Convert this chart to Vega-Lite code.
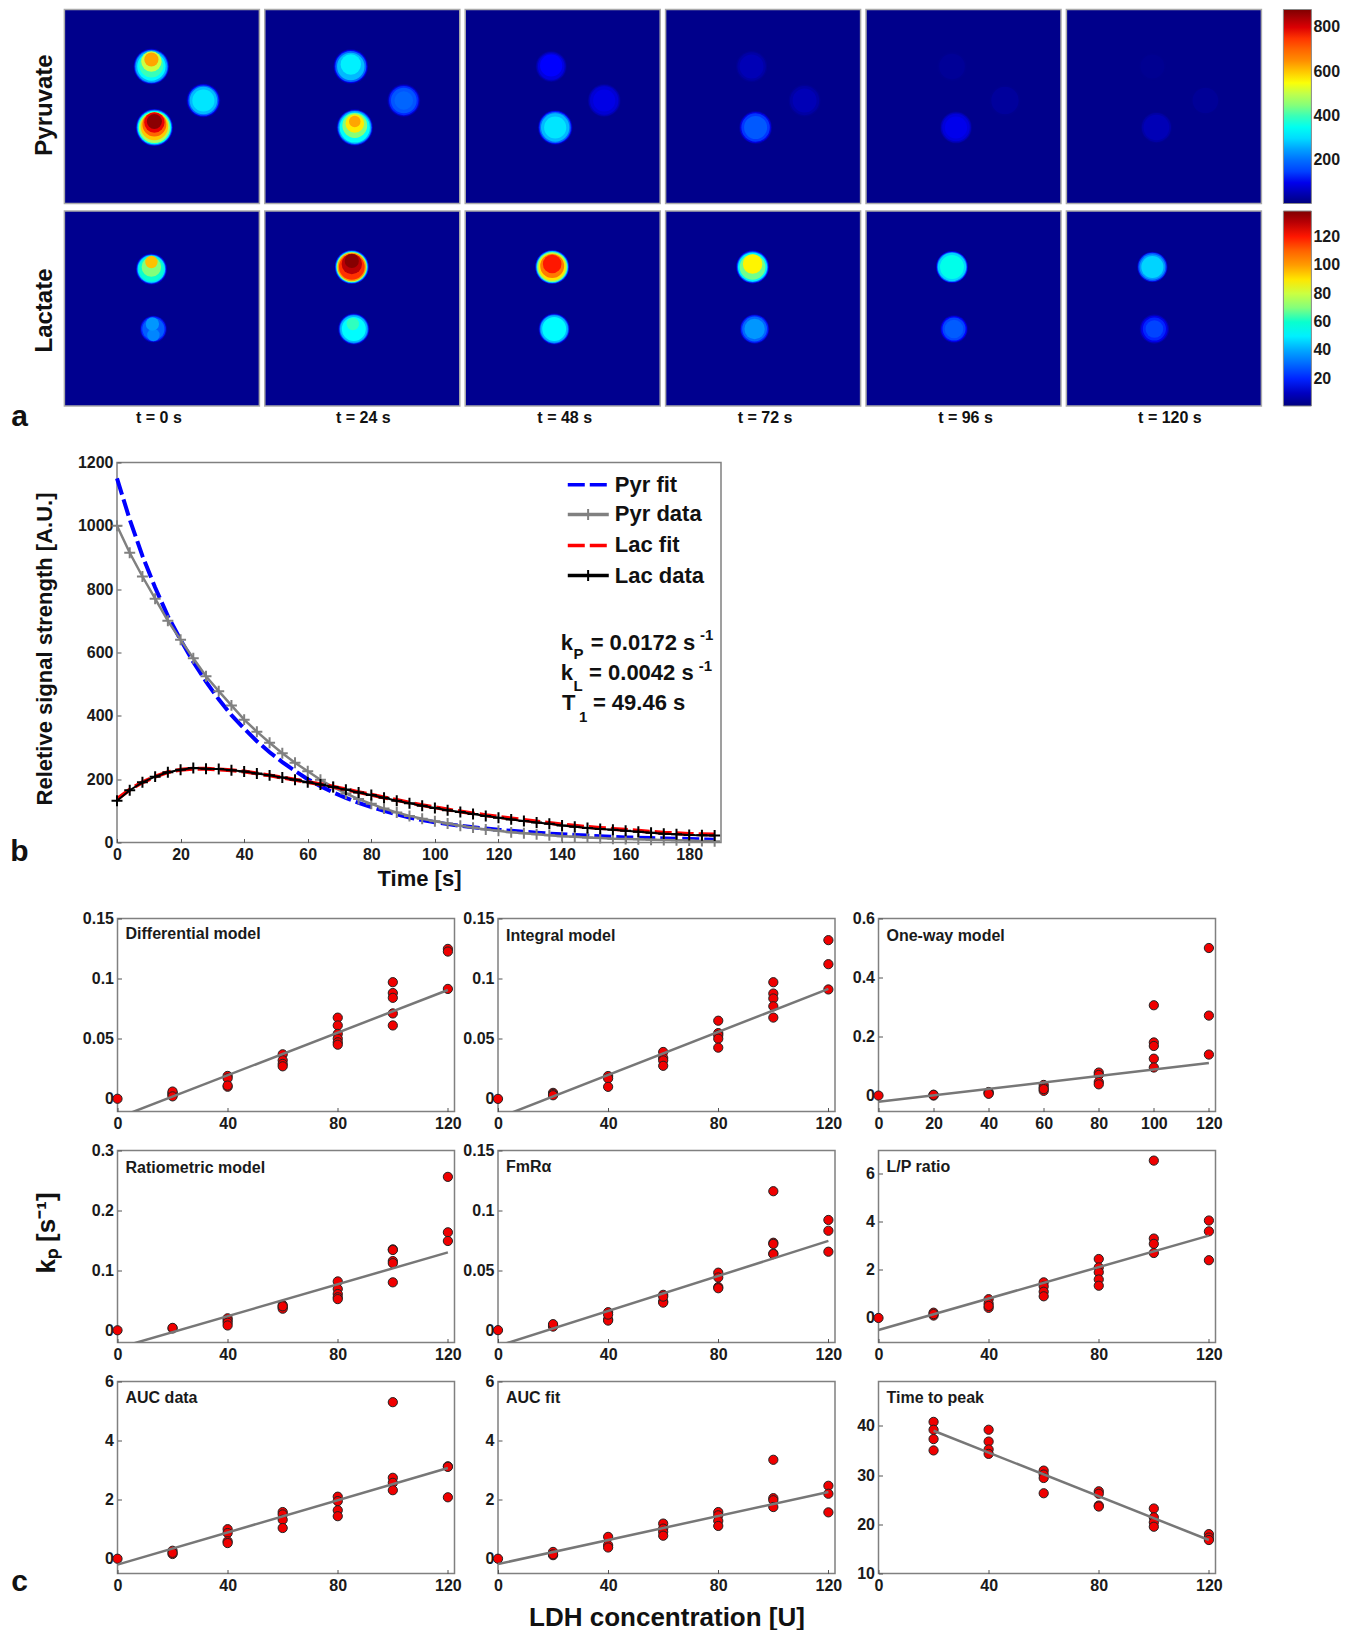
{"$schema":"https://vega.github.io/schema/vega-lite/v6.json","padding":{"left":0,"top":8.5,"right":0,"bottom":0},"background":"white","config":{"numberFormat":".6~g","font":"Liberation Sans","view":{"stroke":"#808080","strokeWidth":1.5},"axis":{"grid":false,"domain":false,"labelFont":"Liberation Sans","labelFontSize":16,"labelFontWeight":"bold","labelColor":"#1a1a1a","labelPadding":8,"tickSize":-4,"tickColor":"#555","titleFont":"Liberation Sans","titleColor":"#111","titleFontWeight":"bold","labelFlush":false,"labelOverlap":false},"title":{"anchor":"start","frame":"group","dx":8,"font":"Liberation Sans","fontSize":16,"fontWeight":"bold","color":"#1a1a1a"},"legend":{"labelFont":"Liberation Sans","labelFontSize":16,"labelFontWeight":"bold","labelColor":"#1a1a1a"}},
"datasets":{"heat":[
{"p":"P0","x":87,"y":57,"d":40,"v":70},{"p":"P0","x":87,"y":57,"d":38,"v":160},{"p":"P0","x":87,"y":57,"d":36,"v":260},{"p":"P0","x":87,"y":57,"d":32,"v":330},{"p":"P0","x":87,"y":56,"d":27,"v":400},{"p":"P0","x":87,"y":52,"d":23,"v":510},{"p":"P0","x":87,"y":50,"d":16,"v":630},
{"p":"P0","x":90,"y":118,"d":42,"v":80},{"p":"P0","x":90,"y":118,"d":40,"v":200},{"p":"P0","x":90,"y":118,"d":38,"v":350},{"p":"P0","x":90,"y":118,"d":35,"v":480},{"p":"P0","x":90,"y":117,"d":31,"v":600},{"p":"P0","x":90,"y":115,"d":27,"v":700},{"p":"P0","x":90,"y":113,"d":23,"v":790},{"p":"P0","x":90,"y":112,"d":17,"v":870},
{"p":"P0","x":139,"y":91,"d":38,"v":50},{"p":"P0","x":139,"y":91,"d":36,"v":110},{"p":"P0","x":139,"y":91,"d":34,"v":190},{"p":"P0","x":139,"y":91,"d":31,"v":270},{"p":"P0","x":139,"y":91,"d":25,"v":310},
{"p":"P24","x":86,"y":57,"d":39,"v":50},{"p":"P24","x":86,"y":57,"d":37,"v":110},{"p":"P24","x":86,"y":57,"d":35,"v":190},{"p":"P24","x":86,"y":57,"d":31,"v":270},{"p":"P24","x":86,"y":55,"d":23,"v":320},
{"p":"P24","x":90,"y":118,"d":41,"v":60},{"p":"P24","x":90,"y":118,"d":39,"v":150},{"p":"P24","x":90,"y":118,"d":37,"v":260},{"p":"P24","x":90,"y":118,"d":34,"v":340},{"p":"P24","x":90,"y":116,"d":28,"v":450},{"p":"P24","x":90,"y":114,"d":21,"v":570},{"p":"P24","x":90,"y":112,"d":13,"v":630},
{"p":"P24","x":139,"y":91,"d":37,"v":40},{"p":"P24","x":139,"y":91,"d":35,"v":80},{"p":"P24","x":139,"y":91,"d":33,"v":130},{"p":"P24","x":139,"y":91,"d":29,"v":170},{"p":"P24","x":139,"y":91,"d":21,"v":190},
{"p":"P48","x":86,"y":57,"d":35,"v":30},{"p":"P48","x":86,"y":57,"d":33,"v":60},{"p":"P48","x":86,"y":57,"d":30,"v":90},{"p":"P48","x":86,"y":56,"d":25,"v":115},
{"p":"P48","x":90,"y":118,"d":39,"v":50},{"p":"P48","x":90,"y":118,"d":37,"v":120},{"p":"P48","x":90,"y":118,"d":35,"v":200},{"p":"P48","x":90,"y":118,"d":32,"v":270},{"p":"P48","x":90,"y":118,"d":25,"v":310},
{"p":"P48","x":139,"y":91,"d":37,"v":30},{"p":"P48","x":139,"y":91,"d":35,"v":55},{"p":"P48","x":139,"y":91,"d":32,"v":80},{"p":"P48","x":139,"y":91,"d":25,"v":95},
{"p":"P72","x":86,"y":57,"d":35,"v":25},{"p":"P72","x":86,"y":57,"d":32,"v":40},{"p":"P72","x":86,"y":57,"d":27,"v":55},
{"p":"P72","x":90,"y":118,"d":37,"v":40},{"p":"P72","x":90,"y":118,"d":35,"v":90},{"p":"P72","x":90,"y":118,"d":32,"v":140},{"p":"P72","x":90,"y":118,"d":26,"v":175},
{"p":"P72","x":139,"y":91,"d":36,"v":25},{"p":"P72","x":139,"y":91,"d":33,"v":40},{"p":"P72","x":139,"y":91,"d":27,"v":55},
{"p":"P96","x":86,"y":57,"d":33,"v":20},{"p":"P96","x":86,"y":57,"d":29,"v":28},
{"p":"P96","x":90,"y":118,"d":36,"v":30},{"p":"P96","x":90,"y":118,"d":34,"v":60},{"p":"P96","x":90,"y":118,"d":31,"v":85},{"p":"P96","x":90,"y":118,"d":25,"v":100},
{"p":"P96","x":139,"y":91,"d":35,"v":20},{"p":"P96","x":139,"y":91,"d":31,"v":32},
{"p":"P120","x":86,"y":57,"d":31,"v":18},{"p":"P120","x":86,"y":57,"d":27,"v":22},
{"p":"P120","x":90,"y":118,"d":35,"v":22},{"p":"P120","x":90,"y":118,"d":33,"v":40},{"p":"P120","x":90,"y":118,"d":29,"v":55},
{"p":"P120","x":139,"y":91,"d":33,"v":18},{"p":"P120","x":139,"y":91,"d":29,"v":28},
{"p":"L0","x":87,"y":58,"d":35,"v":12},{"p":"L0","x":87,"y":58,"d":33,"v":28},{"p":"L0","x":87,"y":58,"d":31,"v":48},{"p":"L0","x":87,"y":58,"d":28,"v":60},{"p":"L0","x":87,"y":56,"d":22,"v":70},{"p":"L0","x":87,"y":51,"d":14,"v":95},
{"p":"L0","x":89,"y":118,"d":30,"v":10},{"p":"L0","x":89,"y":118,"d":28,"v":20},{"p":"L0","x":89,"y":118,"d":25,"v":28},{"p":"L0","x":89,"y":124,"d":14,"v":36},{"p":"L0","x":88,"y":113,"d":15,"v":38},
{"p":"L24","x":87,"y":56,"d":38,"v":20},{"p":"L24","x":87,"y":56,"d":36,"v":45},{"p":"L24","x":87,"y":56,"d":34,"v":75},{"p":"L24","x":87,"y":56,"d":32,"v":100},{"p":"L24","x":87,"y":56,"d":29,"v":118},{"p":"L24","x":87,"y":53,"d":23,"v":130},{"p":"L24","x":87,"y":50,"d":16,"v":137},
{"p":"L24","x":89,"y":118,"d":35,"v":12},{"p":"L24","x":89,"y":118,"d":33,"v":28},{"p":"L24","x":89,"y":118,"d":31,"v":42},{"p":"L24","x":89,"y":118,"d":27,"v":52},{"p":"L24","x":88,"y":113,"d":14,"v":62},
{"p":"L48","x":87,"y":56,"d":38,"v":20},{"p":"L48","x":87,"y":56,"d":36,"v":45},{"p":"L48","x":87,"y":56,"d":34,"v":70},{"p":"L48","x":87,"y":56,"d":31,"v":90},{"p":"L48","x":87,"y":55,"d":27,"v":105},{"p":"L48","x":87,"y":53,"d":21,"v":120},
{"p":"L48","x":89,"y":118,"d":35,"v":12},{"p":"L48","x":89,"y":118,"d":33,"v":28},{"p":"L48","x":89,"y":118,"d":31,"v":42},{"p":"L48","x":89,"y":118,"d":27,"v":52},
{"p":"L72","x":87,"y":56,"d":37,"v":15},{"p":"L72","x":87,"y":56,"d":35,"v":32},{"p":"L72","x":87,"y":56,"d":33,"v":50},{"p":"L72","x":87,"y":56,"d":29,"v":68},{"p":"L72","x":87,"y":53,"d":22,"v":88},
{"p":"L72","x":89,"y":118,"d":33,"v":10},{"p":"L72","x":89,"y":118,"d":31,"v":20},{"p":"L72","x":89,"y":118,"d":28,"v":30},{"p":"L72","x":89,"y":118,"d":23,"v":38},
{"p":"L96","x":86,"y":56,"d":36,"v":14},{"p":"L96","x":86,"y":56,"d":34,"v":32},{"p":"L96","x":86,"y":56,"d":32,"v":46},{"p":"L96","x":86,"y":56,"d":27,"v":56},
{"p":"L96","x":88,"y":118,"d":31,"v":8},{"p":"L96","x":88,"y":118,"d":29,"v":18},{"p":"L96","x":88,"y":118,"d":26,"v":24},{"p":"L96","x":88,"y":118,"d":21,"v":28},
{"p":"L120","x":86,"y":56,"d":34,"v":12},{"p":"L120","x":86,"y":56,"d":32,"v":26},{"p":"L120","x":86,"y":56,"d":29,"v":38},{"p":"L120","x":86,"y":56,"d":25,"v":46},
{"p":"L120","x":88,"y":118,"d":33,"v":8},{"p":"L120","x":88,"y":118,"d":30,"v":15},{"p":"L120","x":88,"y":118,"d":26,"v":20},{"p":"L120","x":88,"y":118,"d":20,"v":24}
]},
"spacing":19,
"resolve":{"scale":{"color":"independent"},"legend":{"color":"independent"}},
"vconcat":[
{"spacing":21,"resolve":{"scale":{"color":"independent"},"legend":{"color":"independent"}},"vconcat":[
{"spacing":4.5,"resolve":{"scale":{"color":"independent"},"legend":{"color":"independent"}},"vconcat":[
{"hconcat":[
{"width":57.6,"height":194,"data":{"values":[]},"mark":"point","view":{"stroke":"transparent"},"encoding":{"x":{"field":"x","type":"quantitative","scale":{"domain":[0,1]},"axis":null}}},
{"width":195,"height":194,"view":{"fill":"#00008b","stroke":"#aaa"},"data":{"name":"heat"},"transform":[{"filter":"datum.p=='P0'"}],"mark":{"type":"circle","opacity":1},"encoding":{"x":{"field":"x","type":"quantitative","scale":{"domain":[0,195]},"axis":null},"y":{"field":"y","type":"quantitative","scale":{"domain":[194,0]},"axis":{"title":"Pyruvate","labels":false,"ticks":false,"titleX":-20,"titleY":95,"titleBaseline":"middle","titleFontSize":24,"titleAlign":"center"}},"size":{"field":"d","type":"quantitative","scale":{"type":"pow","exponent":2,"domain":[0,40],"range":[0,1257]},"legend":null},"color":{"field":"v","type":"quantitative","scale":{"domain":[6,881],"range":["#00007f","#0000ff","#007fff","#00ffff","#7fff7f","#ffff00","#ff7f00","#ff0000","#7f0000"]},"legend":null}}},
{"width":195,"height":194,"view":{"fill":"#00008b","stroke":"#aaa"},"data":{"name":"heat"},"transform":[{"filter":"datum.p=='P24'"}],"mark":{"type":"circle","opacity":1},"encoding":{"x":{"field":"x","type":"quantitative","scale":{"domain":[0,195]},"axis":null},"y":{"field":"y","type":"quantitative","scale":{"domain":[194,0]},"axis":null},"size":{"field":"d","type":"quantitative","scale":{"type":"pow","exponent":2,"domain":[0,40],"range":[0,1257]},"legend":null},"color":{"field":"v","type":"quantitative","scale":{"domain":[6,881],"range":["#00007f","#0000ff","#007fff","#00ffff","#7fff7f","#ffff00","#ff7f00","#ff0000","#7f0000"]},"legend":null}}},
{"width":195,"height":194,"view":{"fill":"#00008b","stroke":"#aaa"},"data":{"name":"heat"},"transform":[{"filter":"datum.p=='P48'"}],"mark":{"type":"circle","opacity":1},"encoding":{"x":{"field":"x","type":"quantitative","scale":{"domain":[0,195]},"axis":null},"y":{"field":"y","type":"quantitative","scale":{"domain":[194,0]},"axis":null},"size":{"field":"d","type":"quantitative","scale":{"type":"pow","exponent":2,"domain":[0,40],"range":[0,1257]},"legend":null},"color":{"field":"v","type":"quantitative","scale":{"domain":[6,881],"range":["#00007f","#0000ff","#007fff","#00ffff","#7fff7f","#ffff00","#ff7f00","#ff0000","#7f0000"]},"legend":null}}},
{"width":195,"height":194,"view":{"fill":"#00008b","stroke":"#aaa"},"data":{"name":"heat"},"transform":[{"filter":"datum.p=='P72'"}],"mark":{"type":"circle","opacity":1},"encoding":{"x":{"field":"x","type":"quantitative","scale":{"domain":[0,195]},"axis":null},"y":{"field":"y","type":"quantitative","scale":{"domain":[194,0]},"axis":null},"size":{"field":"d","type":"quantitative","scale":{"type":"pow","exponent":2,"domain":[0,40],"range":[0,1257]},"legend":null},"color":{"field":"v","type":"quantitative","scale":{"domain":[6,881],"range":["#00007f","#0000ff","#007fff","#00ffff","#7fff7f","#ffff00","#ff7f00","#ff0000","#7f0000"]},"legend":null}}},
{"width":195,"height":194,"view":{"fill":"#00008b","stroke":"#aaa"},"data":{"name":"heat"},"transform":[{"filter":"datum.p=='P96'"}],"mark":{"type":"circle","opacity":1},"encoding":{"x":{"field":"x","type":"quantitative","scale":{"domain":[0,195]},"axis":null},"y":{"field":"y","type":"quantitative","scale":{"domain":[194,0]},"axis":null},"size":{"field":"d","type":"quantitative","scale":{"type":"pow","exponent":2,"domain":[0,40],"range":[0,1257]},"legend":null},"color":{"field":"v","type":"quantitative","scale":{"domain":[6,881],"range":["#00007f","#0000ff","#007fff","#00ffff","#7fff7f","#ffff00","#ff7f00","#ff0000","#7f0000"]},"legend":null}}},
{"width":195,"height":194,"view":{"fill":"#00008b","stroke":"#aaa"},"data":{"name":"heat"},"transform":[{"filter":"datum.p=='P120'"}],"mark":{"type":"circle","opacity":1},"encoding":{"x":{"field":"x","type":"quantitative","scale":{"domain":[0,195]},"axis":null},"y":{"field":"y","type":"quantitative","scale":{"domain":[194,0]},"axis":null},"size":{"field":"d","type":"quantitative","scale":{"type":"pow","exponent":2,"domain":[0,40],"range":[0,1257]},"legend":null},"color":{"field":"v","type":"quantitative","scale":{"domain":[6,881],"range":["#00007f","#0000ff","#007fff","#00ffff","#7fff7f","#ffff00","#ff7f00","#ff0000","#7f0000"]},"legend":{"orient":"none","legendX":217,"legendY":0,"title":null,"gradientLength":194,"gradientThickness":28,"values":[200,400,600,800],"labelOverlap":false,"gradientStrokeColor":"#888","gradientStrokeWidth":1,"labelOffset":2}}}}
],"spacing":5.4,"bounds":"flush","resolve":{"scale":{"color":"independent"},"legend":{"color":"independent"}}},
{"hconcat":[
{"width":57.6,"height":195,"data":{"values":[]},"mark":"point","view":{"stroke":"transparent"},"encoding":{"x":{"field":"x","type":"quantitative","scale":{"domain":[0,1]},"axis":{"title":"a","labels":false,"ticks":false,"titleX":18,"titleY":10,"titleBaseline":"middle","titleAlign":"center","titleFontSize":30}}}},
{"width":195,"height":195,"view":{"fill":"#00008f","stroke":"#aaa"},"data":{"name":"heat"},"transform":[{"filter":"datum.p=='L0'"}],"mark":{"type":"circle","opacity":1},"encoding":{"x":{"field":"x","type":"quantitative","scale":{"domain":[0,195]},"axis":{"title":"t = 0 s","labels":false,"ticks":false,"titleX":94,"titleY":11,"titleBaseline":"middle","titleFontSize":16,"titleAlign":"center"}},"y":{"field":"y","type":"quantitative","scale":{"domain":[195,0]},"axis":{"title":"Lactate","labels":false,"ticks":false,"titleX":-20,"titleY":99,"titleBaseline":"middle","titleFontSize":24,"titleAlign":"center"}},"size":{"field":"d","type":"quantitative","scale":{"type":"pow","exponent":2,"domain":[0,40],"range":[0,1257]},"legend":null},"color":{"field":"v","type":"quantitative","scale":{"domain":[1,138],"range":["#00007f","#0000ff","#007fff","#00ffff","#7fff7f","#ffff00","#ff7f00","#ff0000","#7f0000"]},"legend":null}}},
{"width":195,"height":195,"view":{"fill":"#00008f","stroke":"#aaa"},"data":{"name":"heat"},"transform":[{"filter":"datum.p=='L24'"}],"mark":{"type":"circle","opacity":1},"encoding":{"x":{"field":"x","type":"quantitative","scale":{"domain":[0,195]},"axis":{"title":"t = 24 s","labels":false,"ticks":false,"titleX":98,"titleY":11,"titleBaseline":"middle","titleFontSize":16,"titleAlign":"center"}},"y":{"field":"y","type":"quantitative","scale":{"domain":[195,0]},"axis":null},"size":{"field":"d","type":"quantitative","scale":{"type":"pow","exponent":2,"domain":[0,40],"range":[0,1257]},"legend":null},"color":{"field":"v","type":"quantitative","scale":{"domain":[1,138],"range":["#00007f","#0000ff","#007fff","#00ffff","#7fff7f","#ffff00","#ff7f00","#ff0000","#7f0000"]},"legend":null}}},
{"width":195,"height":195,"view":{"fill":"#00008f","stroke":"#aaa"},"data":{"name":"heat"},"transform":[{"filter":"datum.p=='L48'"}],"mark":{"type":"circle","opacity":1},"encoding":{"x":{"field":"x","type":"quantitative","scale":{"domain":[0,195]},"axis":{"title":"t = 48 s","labels":false,"ticks":false,"titleX":99,"titleY":11,"titleBaseline":"middle","titleFontSize":16,"titleAlign":"center"}},"y":{"field":"y","type":"quantitative","scale":{"domain":[195,0]},"axis":null},"size":{"field":"d","type":"quantitative","scale":{"type":"pow","exponent":2,"domain":[0,40],"range":[0,1257]},"legend":null},"color":{"field":"v","type":"quantitative","scale":{"domain":[1,138],"range":["#00007f","#0000ff","#007fff","#00ffff","#7fff7f","#ffff00","#ff7f00","#ff0000","#7f0000"]},"legend":null}}},
{"width":195,"height":195,"view":{"fill":"#00008f","stroke":"#aaa"},"data":{"name":"heat"},"transform":[{"filter":"datum.p=='L72'"}],"mark":{"type":"circle","opacity":1},"encoding":{"x":{"field":"x","type":"quantitative","scale":{"domain":[0,195]},"axis":{"title":"t = 72 s","labels":false,"ticks":false,"titleX":99,"titleY":11,"titleBaseline":"middle","titleFontSize":16,"titleAlign":"center"}},"y":{"field":"y","type":"quantitative","scale":{"domain":[195,0]},"axis":null},"size":{"field":"d","type":"quantitative","scale":{"type":"pow","exponent":2,"domain":[0,40],"range":[0,1257]},"legend":null},"color":{"field":"v","type":"quantitative","scale":{"domain":[1,138],"range":["#00007f","#0000ff","#007fff","#00ffff","#7fff7f","#ffff00","#ff7f00","#ff0000","#7f0000"]},"legend":null}}},
{"width":195,"height":195,"view":{"fill":"#00008f","stroke":"#aaa"},"data":{"name":"heat"},"transform":[{"filter":"datum.p=='L96'"}],"mark":{"type":"circle","opacity":1},"encoding":{"x":{"field":"x","type":"quantitative","scale":{"domain":[0,195]},"axis":{"title":"t = 96 s","labels":false,"ticks":false,"titleX":99,"titleY":11,"titleBaseline":"middle","titleFontSize":16,"titleAlign":"center"}},"y":{"field":"y","type":"quantitative","scale":{"domain":[195,0]},"axis":null},"size":{"field":"d","type":"quantitative","scale":{"type":"pow","exponent":2,"domain":[0,40],"range":[0,1257]},"legend":null},"color":{"field":"v","type":"quantitative","scale":{"domain":[1,138],"range":["#00007f","#0000ff","#007fff","#00ffff","#7fff7f","#ffff00","#ff7f00","#ff0000","#7f0000"]},"legend":null}}},
{"width":195,"height":195,"view":{"fill":"#00008f","stroke":"#aaa"},"data":{"name":"heat"},"transform":[{"filter":"datum.p=='L120'"}],"mark":{"type":"circle","opacity":1},"encoding":{"x":{"field":"x","type":"quantitative","scale":{"domain":[0,195]},"axis":{"title":"t = 120 s","labels":false,"ticks":false,"titleX":103,"titleY":11,"titleBaseline":"middle","titleFontSize":16,"titleAlign":"center"}},"y":{"field":"y","type":"quantitative","scale":{"domain":[195,0]},"axis":null},"size":{"field":"d","type":"quantitative","scale":{"type":"pow","exponent":2,"domain":[0,40],"range":[0,1257]},"legend":null},"color":{"field":"v","type":"quantitative","scale":{"domain":[1,138],"range":["#00007f","#0000ff","#007fff","#00ffff","#7fff7f","#ffff00","#ff7f00","#ff0000","#7f0000"]},"legend":{"orient":"none","legendX":217,"legendY":0,"title":null,"gradientLength":195,"gradientThickness":28,"values":[20,40,60,80,100,120],"labelOverlap":false,"gradientStrokeColor":"#888","gradientStrokeWidth":1,"labelOffset":2}}}}
],"spacing":5.4,"bounds":"flush","resolve":{"scale":{"color":"independent"},"legend":{"color":"independent"}}}
]},
{"hconcat":[
{"width":116,"height":380,"data":{"values":[]},"mark":"point","view":{"stroke":"transparent"},"encoding":{"x":{"field":"x","type":"quantitative","scale":{"domain":[0,1]},"axis":{"title":"b","labels":false,"ticks":false,"titleX":18,"titleY":9,"titleBaseline":"middle","titleAlign":"center","titleFontSize":30}}}},
{"width":604,"height":380,"data":{"values":[
{"t":0,"pf":1150,"pd":1000,"lf":137,"ld":132},{"t":4,"pf":1020,"pd":915,"lf":167,"ld":165},{"t":8,"pf":905,"pd":840,"lf":190,"ld":190},{"t":12,"pf":805,"pd":770,"lf":208,"ld":208},{"t":16,"pf":715,"pd":700,"lf":222,"ld":222},{"t":20,"pf":640,"pd":640,"lf":230,"ld":230},{"t":24,"pf":570,"pd":582,"lf":233,"ld":235},{"t":28,"pf":508,"pd":525,"lf":233,"ld":233},{"t":32,"pf":452,"pd":478,"lf":231,"ld":232},{"t":36,"pf":402,"pd":433,"lf":228,"ld":228},{"t":40,"pf":360,"pd":388,"lf":224,"ld":224},{"t":44,"pf":320,"pd":350,"lf":218,"ld":218},{"t":48,"pf":285,"pd":315,"lf":212,"ld":212},{"t":52,"pf":254,"pd":282,"lf":205,"ld":205},{"t":56,"pf":226,"pd":252,"lf":198,"ld":198},{"t":60,"pf":200,"pd":225,"lf":191,"ld":190},{"t":64,"pf":178,"pd":198,"lf":184,"ld":183},{"t":68,"pf":158,"pd":175,"lf":176,"ld":175},{"t":72,"pf":141,"pd":155,"lf":168,"ld":167},{"t":76,"pf":125,"pd":137,"lf":159,"ld":158},{"t":80,"pf":112,"pd":122,"lf":151,"ld":150},{"t":84,"pf":100,"pd":107,"lf":142,"ld":141},{"t":88,"pf":89,"pd":95,"lf":134,"ld":132},{"t":92,"pf":79,"pd":84,"lf":126,"ld":124},{"t":96,"pf":71,"pd":75,"lf":118,"ld":116},{"t":100,"pf":64,"pd":67,"lf":111,"ld":109},{"t":104,"pf":58,"pd":60,"lf":104,"ld":102},{"t":108,"pf":53,"pd":53,"lf":98,"ld":96},{"t":112,"pf":48,"pd":47,"lf":92,"ld":90},{"t":116,"pf":44,"pd":41,"lf":86,"ld":84},{"t":120,"pf":40,"pd":37,"lf":81,"ld":78},{"t":124,"pf":37,"pd":32,"lf":76,"ld":73},{"t":128,"pf":34,"pd":29,"lf":71,"ld":68},{"t":132,"pf":31,"pd":26,"lf":66,"ld":63},{"t":136,"pf":28,"pd":23,"lf":62,"ld":59},{"t":140,"pf":26,"pd":20,"lf":57,"ld":54},{"t":144,"pf":24,"pd":18,"lf":53,"ld":50},{"t":148,"pf":22,"pd":16,"lf":49,"ld":46},{"t":152,"pf":20,"pd":14,"lf":46,"ld":43},{"t":156,"pf":18,"pd":12,"lf":43,"ld":40},{"t":160,"pf":16,"pd":11,"lf":40,"ld":37},{"t":164,"pf":15,"pd":10,"lf":37,"ld":34},{"t":168,"pf":14,"pd":9,"lf":34,"ld":31},{"t":172,"pf":13,"pd":8,"lf":31,"ld":28},{"t":176,"pf":12,"pd":7,"lf":29,"ld":26},{"t":180,"pf":11,"pd":6,"lf":27,"ld":24},{"t":184,"pf":10,"pd":5,"lf":26,"ld":23},{"t":188,"pf":9,"pd":4,"lf":25,"ld":22}
]},"encoding":{"x":{"field":"t","type":"quantitative","scale":{"domain":[0,190]},"axis":{"values":[0,20,40,60,80,100,120,140,160,180],"title":"Time [s]","titleFontSize":22,"titleY":36,"titleBaseline":"middle"}}},
"layer":[
{"mark":{"type":"line","color":"#0000ff","strokeWidth":4,"strokeDash":[17,5]},"encoding":{"y":{"field":"pf","type":"quantitative","scale":{"domain":[0,1200]},"axis":{"values":[0,200,400,600,800,1000,1200],"title":"Reletive signal strength [A.U.]","titleFontSize":22,"titleX":-73,"titleY":186,"titleBaseline":"middle","titleAlign":"center"}}}},
{"mark":{"type":"line","color":"#808080","strokeWidth":2.5},"encoding":{"y":{"field":"pd","type":"quantitative"}}},
{"mark":{"type":"point","shape":"M-1,0H1M0,-1V1","color":"#808080","size":120,"strokeWidth":2,"opacity":1},"encoding":{"y":{"field":"pd","type":"quantitative"}}},
{"mark":{"type":"line","color":"#ff0000","strokeWidth":4,"strokeDash":[17,5]},"encoding":{"y":{"field":"lf","type":"quantitative"}}},
{"mark":{"type":"line","color":"#000000","strokeWidth":2},"encoding":{"y":{"field":"ld","type":"quantitative"}}},
{"mark":{"type":"point","shape":"M-1,0H1M0,-1V1","color":"#000000","size":120,"strokeWidth":2,"opacity":1},"encoding":{"y":{"field":"ld","type":"quantitative"}}},
{"data":{"values":[{"s":"Pyr fit","t":141.8,"v":1130},{"s":"Pyr fit","t":154.7,"v":1130},{"s":"Pyr data","t":141.8,"v":1036},{"s":"Pyr data","t":154.7,"v":1036},{"s":"Lac fit","t":141.8,"v":938},{"s":"Lac fit","t":154.7,"v":938},{"s":"Lac data","t":141.8,"v":843},{"s":"Lac data","t":154.7,"v":843}]},"mark":{"type":"line","strokeWidth":3.5},"encoding":{"x":{"field":"t","type":"quantitative"},"y":{"field":"v","type":"quantitative"},"color":{"field":"s","type":"nominal","scale":{"domain":["Pyr fit","Pyr data","Lac fit","Lac data"],"range":["#0000ff","#808080","#ff0000","#000000"]},"legend":null},"strokeDash":{"field":"s","type":"nominal","scale":{"domain":["Pyr fit","Pyr data","Lac fit","Lac data"],"range":[[17,5],[1,0],[17,5],[1,0]]},"legend":null}}},
{"data":{"values":[{"s":"Pyr data","t":148.2,"v":1036},{"s":"Lac data","t":148.2,"v":843}]},"mark":{"type":"point","shape":"M-1,0H1M0,-1V1","size":120,"strokeWidth":2,"opacity":1},"encoding":{"x":{"field":"t","type":"quantitative"},"y":{"field":"v","type":"quantitative"},"color":{"field":"s","type":"nominal","legend":null}}},
{"data":{"values":[{"s":"Pyr fit","t":156.6,"v":1130},{"s":"Pyr data","t":156.6,"v":1036},{"s":"Lac fit","t":156.6,"v":938},{"s":"Lac data","t":156.6,"v":843}]},"mark":{"type":"text","align":"left","baseline":"middle","fontSize":22,"fontWeight":"bold","color":"#111"},"encoding":{"x":{"field":"t","type":"quantitative"},"y":{"field":"v","type":"quantitative"},"text":{"field":"s"}}},
{"data":{"values":[{"s":"k","t":139.6,"v":609},{"s":"= 0.0172 s","t":149,"v":609},{"s":"k","t":139.6,"v":514},{"s":"= 0.0042 s","t":148.5,"v":514},{"s":"T","t":140,"v":417},{"s":"= 49.46 s","t":149.7,"v":417}]},"mark":{"type":"text","align":"left","baseline":"alphabetic","fontSize":22,"fontWeight":"bold","color":"#111"},"encoding":{"x":{"field":"t","type":"quantitative"},"y":{"field":"v","type":"quantitative"},"text":{"field":"s"}}},
{"data":{"values":[{"s":"P","t":143.6,"v":581},{"s":"-1","t":183.4,"v":638},{"s":"L","t":143.6,"v":480},{"s":"-1","t":183,"v":543},{"s":"1","t":145.3,"v":382}]},"mark":{"type":"text","align":"left","baseline":"alphabetic","fontSize":15,"fontWeight":"bold","color":"#111"},"encoding":{"x":{"field":"t","type":"quantitative"},"y":{"field":"v","type":"quantitative"},"text":{"field":"s"}}}
]}
],"spacing":0,"bounds":"flush"}
]},
{"spacing":9,"vconcat":[
{"hconcat":[
{"width":72.5,"height":193,"data":{"values":[]},"mark":"point","view":{"stroke":"transparent"},"encoding":{"x":{"field":"x","type":"quantitative","scale":{"domain":[0,1]},"axis":null}}},
{"width":337,"height":193,"title":{"text":"Differential model","offset":-31},"data":{"values":[{"k":"p","x":0,"y":0},{"k":"p","x":20,"y":0.004},{"k":"p","x":20,"y":0.005},{"k":"p","x":20,"y":0.003},{"k":"p","x":20,"y":0.006},{"k":"p","x":20,"y":0.002},{"k":"p","x":40,"y":0.019},{"k":"p","x":40,"y":0.017},{"k":"p","x":40,"y":0.01},{"k":"p","x":40,"y":0.011},{"k":"p","x":60,"y":0.037},{"k":"p","x":60,"y":0.032},{"k":"p","x":60,"y":0.029},{"k":"p","x":60,"y":0.027},{"k":"p","x":80,"y":0.0675},{"k":"p","x":80,"y":0.061},{"k":"p","x":80,"y":0.054},{"k":"p","x":80,"y":0.05},{"k":"p","x":80,"y":0.047},{"k":"p","x":80,"y":0.045},{"k":"p","x":100,"y":0.097},{"k":"p","x":100,"y":0.088},{"k":"p","x":100,"y":0.084},{"k":"p","x":100,"y":0.071},{"k":"p","x":100,"y":0.061},{"k":"p","x":120,"y":0.1247},{"k":"p","x":120,"y":0.1225},{"k":"p","x":120,"y":0.0914},{"k":"f","x":0,"y":-0.0159},{"k":"f","x":120,"y":0.0905}]},"encoding":{"x":{"field":"x","type":"quantitative","scale":{"domain":[0,122.4]},"axis":{"values":[0,40,80,120],"title":null}},"y":{"field":"y","type":"quantitative","scale":{"domain":[-0.0106,0.15]},"axis":{"values":[0,0.05,0.1,0.15],"title":null}}},"layer":[{"transform":[{"filter":"datum.k=='p'"}],"mark":{"type":"point","filled":true,"fill":"#f00000","stroke":"#222","size":85,"strokeWidth":1,"opacity":1}},{"transform":[{"filter":"datum.k=='f'"}],"mark":{"type":"line","clip":true,"color":"#777","strokeWidth":2.5}}]},
{"width":337,"height":193,"title":{"text":"Integral model","offset":-33},"data":{"values":[{"k":"p","x":0,"y":0},{"k":"p","x":20,"y":0.005},{"k":"p","x":20,"y":0.004},{"k":"p","x":20,"y":0.003},{"k":"p","x":40,"y":0.019},{"k":"p","x":40,"y":0.017},{"k":"p","x":40,"y":0.01},{"k":"p","x":60,"y":0.039},{"k":"p","x":60,"y":0.034},{"k":"p","x":60,"y":0.032},{"k":"p","x":60,"y":0.0275},{"k":"p","x":80,"y":0.065},{"k":"p","x":80,"y":0.0547},{"k":"p","x":80,"y":0.053},{"k":"p","x":80,"y":0.05},{"k":"p","x":80,"y":0.0426},{"k":"p","x":100,"y":0.097},{"k":"p","x":100,"y":0.0876},{"k":"p","x":100,"y":0.0835},{"k":"p","x":100,"y":0.077},{"k":"p","x":100,"y":0.0676},{"k":"p","x":120,"y":0.132},{"k":"p","x":120,"y":0.112},{"k":"p","x":120,"y":0.091},{"k":"f","x":0,"y":-0.0159},{"k":"f","x":120,"y":0.0915}]},"encoding":{"x":{"field":"x","type":"quantitative","scale":{"domain":[0,122.4]},"axis":{"values":[0,40,80,120],"title":null}},"y":{"field":"y","type":"quantitative","scale":{"domain":[-0.0105,0.15]},"axis":{"values":[0,0.05,0.1,0.15],"title":null}}},"layer":[{"transform":[{"filter":"datum.k=='p'"}],"mark":{"type":"point","filled":true,"fill":"#f00000","stroke":"#222","size":85,"strokeWidth":1,"opacity":1}},{"transform":[{"filter":"datum.k=='f'"}],"mark":{"type":"line","clip":true,"color":"#777","strokeWidth":2.5}}]},
{"width":337,"height":193,"title":{"text":"One-way model","offset":-33},"data":{"values":[{"k":"p","x":0,"y":0},{"k":"p","x":20,"y":0.003},{"k":"p","x":20,"y":0},{"k":"p","x":20,"y":0.002},{"k":"p","x":40,"y":0.012},{"k":"p","x":40,"y":0.008},{"k":"p","x":40,"y":0.006},{"k":"p","x":60,"y":0.036},{"k":"p","x":60,"y":0.027},{"k":"p","x":60,"y":0.016},{"k":"p","x":60,"y":0.022},{"k":"p","x":80,"y":0.078},{"k":"p","x":80,"y":0.07},{"k":"p","x":80,"y":0.046},{"k":"p","x":80,"y":0.038},{"k":"p","x":100,"y":0.306},{"k":"p","x":100,"y":0.18},{"k":"p","x":100,"y":0.168},{"k":"p","x":100,"y":0.125},{"k":"p","x":100,"y":0.095},{"k":"p","x":120,"y":0.5},{"k":"p","x":120,"y":0.271},{"k":"p","x":120,"y":0.139},{"k":"f","x":0,"y":-0.021},{"k":"f","x":120,"y":0.11}]},"encoding":{"x":{"field":"x","type":"quantitative","scale":{"domain":[0,122.4]},"axis":{"values":[0,20,40,60,80,100,120],"title":null}},"y":{"field":"y","type":"quantitative","scale":{"domain":[-0.054,0.6]},"axis":{"values":[0,0.2,0.4,0.6],"title":null}}},"layer":[{"transform":[{"filter":"datum.k=='p'"}],"mark":{"type":"point","filled":true,"fill":"#f00000","stroke":"#222","size":85,"strokeWidth":1,"opacity":1}},{"transform":[{"filter":"datum.k=='f'"}],"mark":{"type":"line","clip":true,"color":"#777","strokeWidth":2.5}}]}
],"spacing":43.5,"bounds":"flush"},
{"hconcat":[
{"width":72.5,"height":192,"data":{"values":[]},"mark":"point","view":{"stroke":"transparent"},"encoding":{"y":{"field":"y","type":"quantitative","scale":{"domain":[0,1]},"axis":{"title":"kₚ [s⁻¹]","labels":false,"ticks":false,"titleX":45,"titleY":82,"titleBaseline":"middle","titleAlign":"center","titleFontSize":26}}}},
{"width":337,"height":192,"title":{"text":"Ratiometric model","offset":-33},"data":{"values":[{"k":"p","x":0,"y":0},{"k":"p","x":20,"y":0.003},{"k":"p","x":20,"y":0.004},{"k":"p","x":40,"y":0.02},{"k":"p","x":40,"y":0.0165},{"k":"p","x":40,"y":0.0127},{"k":"p","x":40,"y":0.008},{"k":"p","x":60,"y":0.042},{"k":"p","x":60,"y":0.0385},{"k":"p","x":60,"y":0.036},{"k":"p","x":60,"y":0.04},{"k":"p","x":80,"y":0.0815},{"k":"p","x":80,"y":0.069},{"k":"p","x":80,"y":0.0605},{"k":"p","x":80,"y":0.055},{"k":"p","x":80,"y":0.052},{"k":"p","x":100,"y":0.135},{"k":"p","x":100,"y":0.134},{"k":"p","x":100,"y":0.1155},{"k":"p","x":100,"y":0.112},{"k":"p","x":100,"y":0.08},{"k":"p","x":120,"y":0.256},{"k":"p","x":120,"y":0.1635},{"k":"p","x":120,"y":0.149},{"k":"f","x":0,"y":-0.0297},{"k":"f","x":120,"y":0.13}]},"encoding":{"x":{"field":"x","type":"quantitative","scale":{"domain":[0,122.4]},"axis":{"values":[0,40,80,120],"title":null}},"y":{"field":"y","type":"quantitative","scale":{"domain":[-0.0204,0.3]},"axis":{"values":[0,0.1,0.2,0.3],"title":null}}},"layer":[{"transform":[{"filter":"datum.k=='p'"}],"mark":{"type":"point","filled":true,"fill":"#f00000","stroke":"#222","size":85,"strokeWidth":1,"opacity":1}},{"transform":[{"filter":"datum.k=='f'"}],"mark":{"type":"line","clip":true,"color":"#777","strokeWidth":2.5}}]},
{"width":337,"height":192,"title":{"text":"FmRα","offset":-32},"data":{"values":[{"k":"p","x":0,"y":0},{"k":"p","x":20,"y":0.004},{"k":"p","x":20,"y":0.003},{"k":"p","x":20,"y":0.005},{"k":"p","x":40,"y":0.015},{"k":"p","x":40,"y":0.009},{"k":"p","x":40,"y":0.008},{"k":"p","x":40,"y":0.013},{"k":"p","x":60,"y":0.0295},{"k":"p","x":60,"y":0.024},{"k":"p","x":60,"y":0.023},{"k":"p","x":60,"y":0.028},{"k":"p","x":80,"y":0.048},{"k":"p","x":80,"y":0.044},{"k":"p","x":80,"y":0.036},{"k":"p","x":80,"y":0.035},{"k":"p","x":100,"y":0.116},{"k":"p","x":100,"y":0.073},{"k":"p","x":100,"y":0.072},{"k":"p","x":100,"y":0.064},{"k":"p","x":100,"y":0.0635},{"k":"p","x":120,"y":0.092},{"k":"p","x":120,"y":0.083},{"k":"p","x":120,"y":0.0655},{"k":"f","x":0,"y":-0.0132},{"k":"f","x":120,"y":0.0745}]},"encoding":{"x":{"field":"x","type":"quantitative","scale":{"domain":[0,122.4]},"axis":{"values":[0,40,80,120],"title":null}},"y":{"field":"y","type":"quantitative","scale":{"domain":[-0.0103,0.15]},"axis":{"values":[0,0.05,0.1,0.15],"title":null}}},"layer":[{"transform":[{"filter":"datum.k=='p'"}],"mark":{"type":"point","filled":true,"fill":"#f00000","stroke":"#222","size":85,"strokeWidth":1,"opacity":1}},{"transform":[{"filter":"datum.k=='f'"}],"mark":{"type":"line","clip":true,"color":"#777","strokeWidth":2.5}}]},
{"width":337,"height":192,"title":{"text":"L/P ratio","offset":-24},"data":{"values":[{"k":"p","x":0,"y":0},{"k":"p","x":20,"y":0.22},{"k":"p","x":20,"y":0.1},{"k":"p","x":20,"y":0.16},{"k":"p","x":40,"y":0.78},{"k":"p","x":40,"y":0.6},{"k":"p","x":40,"y":0.42},{"k":"p","x":40,"y":0.5},{"k":"p","x":60,"y":1.48},{"k":"p","x":60,"y":1.31},{"k":"p","x":60,"y":1.09},{"k":"p","x":60,"y":0.9},{"k":"p","x":80,"y":2.45},{"k":"p","x":80,"y":2.1},{"k":"p","x":80,"y":1.9},{"k":"p","x":80,"y":1.6},{"k":"p","x":80,"y":1.34},{"k":"p","x":100,"y":6.54},{"k":"p","x":100,"y":3.3},{"k":"p","x":100,"y":3.08},{"k":"p","x":100,"y":2.7},{"k":"p","x":120,"y":4.05},{"k":"p","x":120,"y":3.6},{"k":"p","x":120,"y":2.4},{"k":"f","x":0,"y":-0.5},{"k":"f","x":120,"y":3.42}]},"encoding":{"x":{"field":"x","type":"quantitative","scale":{"domain":[0,122.4]},"axis":{"values":[0,40,80,120],"title":null}},"y":{"field":"y","type":"quantitative","scale":{"domain":[-1.02,6.96]},"axis":{"values":[0,2,4,6],"title":null}}},"layer":[{"transform":[{"filter":"datum.k=='p'"}],"mark":{"type":"point","filled":true,"fill":"#f00000","stroke":"#222","size":85,"strokeWidth":1,"opacity":1}},{"transform":[{"filter":"datum.k=='f'"}],"mark":{"type":"line","clip":true,"color":"#777","strokeWidth":2.5}}]}
],"spacing":43.5,"bounds":"flush"},
{"hconcat":[
{"width":72.5,"height":192,"data":{"values":[]},"mark":"point","view":{"stroke":"transparent"},"encoding":{"x":{"field":"x","type":"quantitative","scale":{"domain":[0,1]},"axis":{"title":"c","labels":false,"ticks":false,"titleX":18,"titleY":8,"titleBaseline":"middle","titleAlign":"center","titleFontSize":30}}}},
{"width":337,"height":192,"title":{"text":"AUC data","offset":-32},"data":{"values":[{"k":"p","x":0,"y":0},{"k":"p","x":20,"y":0.27},{"k":"p","x":20,"y":0.16},{"k":"p","x":20,"y":0.2},{"k":"p","x":40,"y":1},{"k":"p","x":40,"y":0.87},{"k":"p","x":40,"y":0.59},{"k":"p","x":40,"y":0.53},{"k":"p","x":60,"y":1.58},{"k":"p","x":60,"y":1.5},{"k":"p","x":60,"y":1.32},{"k":"p","x":60,"y":1.04},{"k":"p","x":80,"y":2.1},{"k":"p","x":80,"y":1.95},{"k":"p","x":80,"y":1.64},{"k":"p","x":80,"y":1.44},{"k":"p","x":100,"y":5.3},{"k":"p","x":100,"y":2.74},{"k":"p","x":100,"y":2.57},{"k":"p","x":100,"y":2.32},{"k":"p","x":120,"y":3.13},{"k":"p","x":120,"y":3.11},{"k":"p","x":120,"y":2.08},{"k":"f","x":0,"y":-0.2},{"k":"f","x":120,"y":3.07}]},"encoding":{"x":{"field":"x","type":"quantitative","scale":{"domain":[0,122.4]},"axis":{"values":[0,40,80,120],"title":null}},"y":{"field":"y","type":"quantitative","scale":{"domain":[-0.5,6]},"axis":{"values":[0,2,4,6],"title":null}}},"layer":[{"transform":[{"filter":"datum.k=='p'"}],"mark":{"type":"point","filled":true,"fill":"#f00000","stroke":"#222","size":85,"strokeWidth":1,"opacity":1}},{"transform":[{"filter":"datum.k=='f'"}],"mark":{"type":"line","clip":true,"color":"#777","strokeWidth":2.5}}]},
{"width":337,"height":192,"title":{"text":"AUC fit","offset":-32},"data":{"values":[{"k":"p","x":0,"y":0},{"k":"p","x":20,"y":0.23},{"k":"p","x":20,"y":0.12},{"k":"p","x":20,"y":0.15},{"k":"p","x":40,"y":0.74},{"k":"p","x":40,"y":0.46},{"k":"p","x":40,"y":0.38},{"k":"p","x":60,"y":1.19},{"k":"p","x":60,"y":1.02},{"k":"p","x":60,"y":0.91},{"k":"p","x":60,"y":0.78},{"k":"p","x":80,"y":1.58},{"k":"p","x":80,"y":1.47},{"k":"p","x":80,"y":1.28},{"k":"p","x":80,"y":1.11},{"k":"p","x":100,"y":3.35},{"k":"p","x":100,"y":2.05},{"k":"p","x":100,"y":1.98},{"k":"p","x":100,"y":1.75},{"k":"p","x":120,"y":2.47},{"k":"p","x":120,"y":2.2},{"k":"p","x":120,"y":1.57},{"k":"f","x":0,"y":-0.18},{"k":"f","x":120,"y":2.26}]},"encoding":{"x":{"field":"x","type":"quantitative","scale":{"domain":[0,122.4]},"axis":{"values":[0,40,80,120],"title":"LDH concentration [U]","titleFontSize":26,"titleY":44,"titleBaseline":"middle"}},"y":{"field":"y","type":"quantitative","scale":{"domain":[-0.5,6]},"axis":{"values":[0,2,4,6],"title":null}}},"layer":[{"transform":[{"filter":"datum.k=='p'"}],"mark":{"type":"point","filled":true,"fill":"#f00000","stroke":"#222","size":85,"strokeWidth":1,"opacity":1}},{"transform":[{"filter":"datum.k=='f'"}],"mark":{"type":"line","clip":true,"color":"#777","strokeWidth":2.5}}]},
{"width":337,"height":192,"title":{"text":"Time to peak","offset":-24},"data":{"values":[{"k":"p","x":20,"y":40.8},{"k":"p","x":20,"y":39.2},{"k":"p","x":20,"y":37.3},{"k":"p","x":20,"y":35},{"k":"p","x":40,"y":39.2},{"k":"p","x":40,"y":36.8},{"k":"p","x":40,"y":35.2},{"k":"p","x":40,"y":34.3},{"k":"p","x":60,"y":30.9},{"k":"p","x":60,"y":30.1},{"k":"p","x":60,"y":29.4},{"k":"p","x":60,"y":26.3},{"k":"p","x":80,"y":26.7},{"k":"p","x":80,"y":26.2},{"k":"p","x":80,"y":23.8},{"k":"p","x":80,"y":23.6},{"k":"p","x":100,"y":23.2},{"k":"p","x":100,"y":21.4},{"k":"p","x":100,"y":20.4},{"k":"p","x":100,"y":19.5},{"k":"p","x":120,"y":18},{"k":"p","x":120,"y":17.3},{"k":"p","x":120,"y":16.8},{"k":"f","x":20,"y":39},{"k":"f","x":120,"y":16.8}]},"encoding":{"x":{"field":"x","type":"quantitative","scale":{"domain":[0,122.4]},"axis":{"values":[0,40,80,120],"title":null}},"y":{"field":"y","type":"quantitative","scale":{"domain":[10,49]},"axis":{"values":[10,20,30,40],"title":null}}},"layer":[{"transform":[{"filter":"datum.k=='p'"}],"mark":{"type":"point","filled":true,"fill":"#f00000","stroke":"#222","size":85,"strokeWidth":1,"opacity":1}},{"transform":[{"filter":"datum.k=='f'"}],"mark":{"type":"line","clip":true,"color":"#777","strokeWidth":2.5}}]}
],"spacing":43.5,"bounds":"flush"}
]}
]}
